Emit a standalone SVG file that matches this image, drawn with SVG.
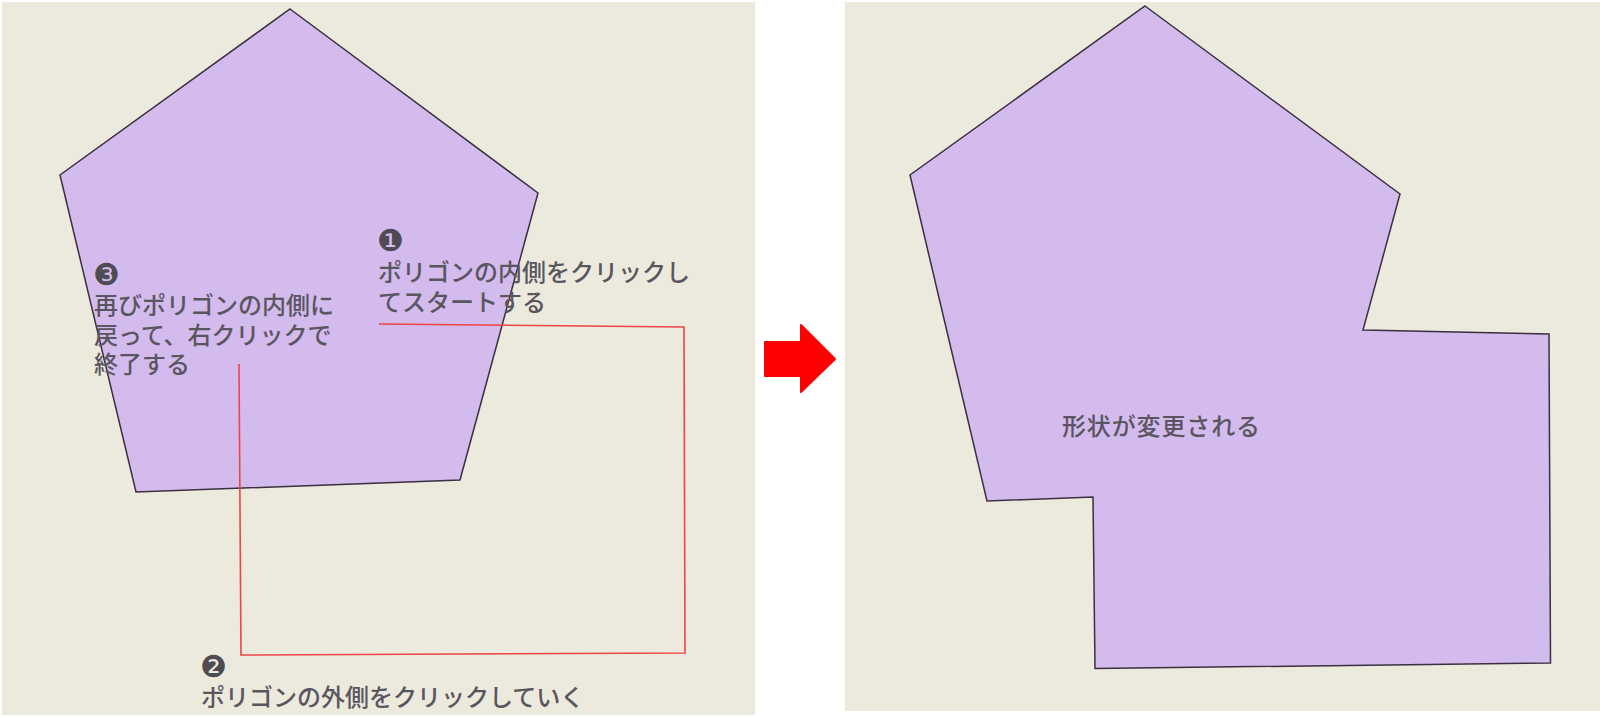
<svg xmlns="http://www.w3.org/2000/svg" width="1600" height="717" viewBox="0 0 1600 717">
<style>
.bg{fill:#ECE9DD}
.poly{fill:#D3BBEE;stroke:#3A3040;stroke-width:1.5;stroke-linejoin:miter}
.t{font-family:"Noto Sans CJK JP","DejaVu Sans",sans-serif;font-size:24px;font-weight:500;fill:#5A5660}
.n{font-family:"DejaVu Sans","Noto Sans CJK JP",sans-serif;font-size:30px;fill:#4F4B52}
.red{fill:none;stroke:#EE4444;stroke-width:1.6}
</style>
<rect width="1600" height="717" fill="#FFFFFF"/>
<g id="left-panel">
<rect class="bg" x="2" y="2" width="753" height="713"/>
<polygon class="poly" points="290,9 538,193 460,480 136,492 60,175"/>
</g>
<g id="connectors">
<polyline class="red" points="379,324 684,327 685,653 241,655 239,364"/>
</g>
<g id="label1">
<text class="n" x="377" y="251">❶</text>
<text class="t" x="378" y="281">ポリゴンの内側をクリックし</text>
<text class="t" x="378" y="311">てスタートする</text>
</g>
<g id="label3">
<text class="n" x="93" y="285">❸</text>
<text class="t" x="94" y="314">再びポリゴンの内側に</text>
<text class="t" x="94" y="344">戻って、右クリックで</text>
<text class="t" x="94" y="373">終了する</text>
</g>
<g id="label2">
<text class="n" x="200" y="677">❷</text>
<text class="t" x="201" y="706">ポリゴンの外側をクリックしていく</text>
</g>
<g id="arrow">
<path d="M765,342 L801,342 L801,325 L835,359 L801,392 L801,376 L765,376 Z" fill="#FF0000" stroke="#FF0000" stroke-width="2" stroke-linejoin="round"/>
</g>
<g id="right-panel">
<rect class="bg" x="845" y="2" width="755" height="709"/>
<polygon class="poly" points="1145,6 1400,194 1363,330 1549,334 1550.5,663 1095,668.5 1093,497 987,501 910,175"/>
<text class="t" x="1062" y="435" textLength="198" lengthAdjust="spacing">形状が変更される</text>
</g>
</svg>
